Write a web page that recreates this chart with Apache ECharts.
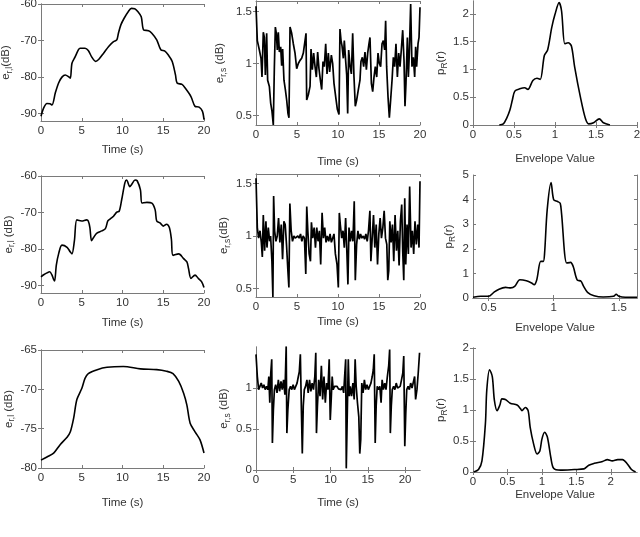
<!DOCTYPE html>
<html>
<head>
<meta charset="utf-8">
<script src="https://cdn.jsdelivr.net/npm/echarts@6.0.0/dist/echarts.min.js"></script>
<style>
  html, body { margin: 0; padding: 0; background: #fff; }
  #chart { width: 640px; height: 537px; }
</style>
</head>
<body>
<div id="chart"></div>
<script>
// ---- data ----
// large scale fading e_r,l (dB), rows 1..3
const largeScale1 = [[0,-90.7],[0.33,-88.4],[0.73,-87.2],[1.1,-87.3],[1.35,-87.6],[1.76,-84.3],[2.16,-81.6],[2.57,-80],[2.98,-79.4],[3.4,-79.9],[3.6,-80.3],[3.8,-76.2],[4.2,-74.4],[4.6,-72.5],[4.8,-72.1],[5.4,-72.1],[5.8,-72.7],[6.2,-74.4],[6.7,-75.7],[7.1,-75.1],[7.7,-73.4],[8.3,-71.6],[8.9,-70.3],[9.3,-69.8],[9.5,-68],[9.8,-65.7],[10.2,-63.9],[10.7,-62.1],[11.1,-61.2],[11.5,-61.3],[11.9,-62.1],[12.3,-63.5],[12.6,-67.1],[13.2,-67.3],[13.6,-68],[14.2,-69.8],[14.7,-72.5],[15.2,-72.9],[15.6,-73.9],[16.1,-75.7],[16.5,-79.4],[16.7,-81.6],[17.3,-82],[17.7,-83],[18.4,-85.3],[18.9,-88],[19.4,-88.2],[19.8,-89.3],[20,-91.6]]
const largeScale2 = [[0,-87.6],[0.33,-87],[0.73,-86.5],[1.06,-86.2],[1.35,-87.1],[1.55,-88.3],[1.67,-88.7],[1.88,-84.4],[2.16,-81.3],[2.57,-78.9],[3.2,-79.5],[3.6,-80.8],[3.8,-81.3],[4.1,-77.7],[4.4,-72],[5,-72.3],[5.6,-72],[5.8,-72.3],[6,-74.1],[6.2,-77.7],[6.45,-76.8],[6.86,-75.6],[7.47,-75],[7.9,-74.4],[8.2,-72.3],[8.5,-71.7],[8.9,-71],[9.3,-69.9],[9.6,-69.6],[9.9,-66.5],[10.3,-61.8],[10.5,-61.1],[10.9,-62.9],[11.1,-62.4],[11.55,-61.1],[11.8,-61.3],[12.2,-63.8],[12.4,-67.4],[13,-67.2],[13.6,-67.4],[14,-69.2],[14.2,-72.3],[14.6,-72.8],[15,-73.7],[15.4,-73.2],[15.75,-74.1],[16,-77.3],[16.2,-81.7],[16.9,-81.3],[17.5,-82.6],[17.9,-83.5],[18.1,-85.3],[18.4,-88],[18.9,-87.1],[19.3,-88],[19.7,-88.9],[20,-90.5]]
const largeScale3 = [[0,-79],[0.73,-78.6],[1.55,-78.1],[2.37,-77],[3.2,-76.1],[3.6,-75.4],[4,-73.7],[4.4,-71.3],[5,-69.9],[5.4,-68.6],[5.8,-68],[6.9,-67.5],[8.1,-67.2],[10.1,-67.1],[12.2,-67.4],[14.2,-67.5],[15.4,-67.7],[16.2,-68],[16.9,-69],[17.5,-70.5],[17.9,-72],[18.3,-74.3],[18.9,-75.4],[19.5,-76.4],[20,-78.1]]

// small scale fading e_r,s, rows 1..3
const smallScale1 = [[0,1.55],[0.16,1.22],[0.41,1.13],[0.61,1.05],[0.73,0.87],[0.89,1.3],[1.02,1.25],[1.14,0.89],[1.3,1.29],[1.42,0.84],[1.63,0.78],[1.79,0.62],[1.95,0.54],[2.11,0.41],[2.24,0.97],[2.36,1.35],[2.48,1.29],[2.6,1.13],[2.72,1.3],[2.85,1.11],[3.01,1.16],[3.13,0.98],[3.25,1.14],[3.41,0.84],[3.58,0.75],[3.74,0.65],[3.9,0.52],[4.02,0.48],[4.15,1.35],[4.35,1.29],[4.55,1.19],[4.76,1.1],[4.96,0.95],[5.16,1.0],[5.37,1.03],[5.57,1.05],[5.77,1.1],[5.98,1.22],[6.1,1.29],[6.18,0.65],[6.38,0.7],[6.59,0.78],[6.71,1.14],[6.87,0.94],[7.03,1.1],[7.2,0.97],[7.36,0.87],[7.52,1.11],[7.68,0.95],[7.85,0.84],[8.01,0.75],[8.17,1.02],[8.33,0.97],[8.5,1.19],[8.66,0.9],[8.82,1.1],[8.98,0.92],[9.19,1.08],[9.35,1.0],[9.51,0.81],[9.72,0.68],[9.92,0.56],[10.12,0.51],[10.24,1.33],[10.37,1.22],[10.49,1.17],[10.65,1.05],[10.77,1.22],[10.93,1.03],[11.06,0.89],[11.18,0.52],[11.3,1.13],[11.46,0.98],[11.63,0.9],[11.79,1.29],[11.95,0.87],[12.11,0.59],[12.28,0.65],[12.48,0.75],[12.68,0.84],[12.8,1.02],[12.97,1.06],[13.13,0.97],[13.29,1.11],[13.46,0.94],[13.62,1.1],[13.78,1.19],[13.9,1.25],[14.07,0.81],[14.23,0.73],[14.39,0.87],[14.55,0.97],[14.72,0.87],[14.88,1.1],[15.04,1.0],[15.2,0.97],[15.37,1.19],[15.53,1.22],[15.69,1.13],[15.81,1.41],[15.93,0.97],[16.1,0.68],[16.26,0.48],[16.42,0.65],[16.59,0.84],[16.75,1.06],[16.91,0.97],[17.07,1.19],[17.24,0.87],[17.4,1.1],[17.56,0.97],[17.72,1.13],[17.89,1.32],[18.05,1.03],[18.17,0.59],[18.29,0.81],[18.46,1.25],[18.58,0.87],[18.7,1.1],[18.86,1.57],[19.02,0.97],[19.19,1.06],[19.35,0.87],[19.47,1.16],[19.59,0.97],[19.76,1.19],[19.88,1.25],[20,1.54]]
const smallScale2 = [[0,1.55],[0.16,1.08],[0.32,0.98],[0.49,1.05],[0.65,0.94],[0.77,0.8],[0.89,1.2],[1.05,0.86],[1.21,1.14],[1.34,0.89],[1.5,1.08],[1.66,0.95],[1.78,1.0],[1.94,0.76],[2.06,0.42],[2.15,1.38],[2.27,1.05],[2.43,0.95],[2.59,1.0],[2.75,1.17],[2.91,0.94],[3.08,1.11],[3.24,0.78],[3.4,1.14],[3.56,1.11],[3.72,0.92],[3.89,0.67],[4.01,0.51],[4.13,1.31],[4.29,1.05],[4.45,0.95],[4.62,1.0],[4.78,0.98],[4.94,0.97],[5.1,1.0],[5.26,0.98],[5.43,1.02],[5.59,0.95],[5.75,1.0],[5.91,0.98],[6.07,0.64],[6.19,1.28],[6.32,1.05],[6.48,0.83],[6.64,0.76],[6.76,1.13],[6.92,0.98],[7.09,1.08],[7.25,0.89],[7.41,1.08],[7.57,0.95],[7.73,1.05],[7.89,0.73],[8.06,1.22],[8.22,0.98],[8.38,1.08],[8.54,0.94],[8.7,1.0],[8.87,0.95],[9.03,1.02],[9.19,0.94],[9.35,0.98],[9.51,1.02],[9.68,0.83],[9.88,0.73],[10.04,0.51],[10.16,1.22],[10.28,1.11],[10.45,0.98],[10.61,1.05],[10.77,0.89],[10.93,1.17],[11.09,0.83],[11.21,0.54],[11.34,1.08],[11.5,0.95],[11.66,1.05],[11.82,0.95],[11.98,1.33],[12.11,0.58],[12.27,0.92],[12.43,1.05],[12.59,0.97],[12.75,1.02],[12.91,0.98],[13.08,1.0],[13.24,0.97],[13.4,1.02],[13.56,0.95],[13.72,1.05],[13.89,1.24],[14.01,0.76],[14.17,0.98],[14.33,1.2],[14.49,0.89],[14.66,1.11],[14.82,0.73],[14.98,1.02],[15.14,1.17],[15.3,0.98],[15.47,1.08],[15.63,1.24],[15.79,0.98],[15.95,0.92],[16.07,0.58],[16.19,0.67],[16.32,1.14],[16.48,0.94],[16.64,1.11],[16.8,0.76],[16.96,1.2],[17.13,0.86],[17.29,1.05],[17.45,0.72],[17.61,1.14],[17.77,1.3],[17.89,0.86],[18.02,0.58],[18.14,1.36],[18.26,0.73],[18.42,1.11],[18.58,0.83],[18.74,1.47],[18.91,0.89],[19.07,1.05],[19.23,0.83],[19.39,1.14],[19.55,0.92],[19.72,1.11],[19.88,0.89],[20,1.52]]
const smallScale3 = [[0,1.41],[0.18,1.14],[0.35,0.98],[0.53,0.96],[0.7,1.06],[0.88,1.0],[1.06,1.04],[1.23,0.98],[1.41,1.02],[1.59,0.98],[1.72,1.14],[1.85,0.82],[1.98,1.18],[2.11,1.35],[2.2,0.33],[2.33,0.73],[2.47,0.98],[2.64,1.04],[2.82,0.94],[3.0,1.1],[3.17,0.96],[3.35,1.08],[3.52,0.98],[3.7,1.1],[3.88,0.92],[4.05,1.51],[4.14,0.45],[4.27,0.73],[4.45,0.98],[4.63,1.02],[4.8,0.98],[4.98,1.04],[5.15,0.98],[5.33,1.0],[5.51,1.06],[5.68,1.14],[5.81,1.2],[5.95,1.41],[6.08,0.78],[6.21,0.2],[6.34,0.78],[6.48,0.98],[6.65,1.02],[6.83,1.1],[7.0,0.94],[7.18,1.1],[7.36,0.96],[7.53,1.06],[7.71,0.98],[7.89,1.14],[8.02,1.43],[8.11,0.45],[8.24,0.78],[8.41,1.1],[8.59,0.9],[8.77,1.27],[8.94,0.86],[9.12,1.14],[9.3,0.82],[9.47,1.06],[9.65,0.98],[9.82,1.35],[9.96,0.61],[10.09,0.86],[10.22,1.14],[10.35,0.98],[10.53,1.02],[10.7,1.0],[10.88,1.02],[11.06,0.99],[11.23,1.0],[11.41,0.98],[11.59,1.02],[11.76,0.94],[11.89,1.14],[12.03,1.35],[12.11,0.02],[12.25,0.02],[12.38,1.35],[12.51,0.9],[12.64,1.02],[12.82,0.9],[13.0,1.06],[13.17,0.86],[13.3,1.35],[13.44,1.02],[13.61,0.82],[13.79,0.65],[13.92,0.2],[14.05,0.37],[14.19,1.06],[14.36,0.94],[14.54,1.1],[14.71,0.98],[14.89,1.04],[15.07,0.98],[15.24,1.02],[15.42,1.06],[15.59,1.14],[15.73,1.22],[15.86,1.41],[15.99,0.33],[16.12,0.78],[16.26,1.02],[16.43,0.98],[16.61,1.02],[16.78,0.82],[16.92,1.1],[17.09,0.98],[17.27,1.06],[17.44,0.98],[17.62,1.14],[17.8,1.27],[17.93,1.47],[18.02,0.45],[18.15,0.78],[18.28,0.98],[18.46,1.02],[18.63,0.98],[18.81,1.06],[18.99,1.0],[19.16,0.98],[19.34,1.02],[19.52,1.1],[19.69,1.18],[19.82,1.39],[19.96,0.29],[20.09,0.69],[20.22,0.98],[20.4,1.02],[20.57,0.98],[20.75,1.06],[20.93,1.0],[21.1,0.98],[21.28,1.14],[21.41,0.86],[21.59,0.98],[21.76,1.18],[21.94,1.43]]

// envelope pdf p_R(r), rows 1..3
const envelopePdf1 = [[0.32,0],[0.37,0.02],[0.41,0.12],[0.45,0.27],[0.48,0.45],[0.51,0.61],[0.57,0.65],[0.63,0.67],[0.67,0.64],[0.73,0.8],[0.78,0.84],[0.82,0.82],[0.87,1.25],[0.91,1.35],[0.96,1.75],[1.0,1.99],[1.05,2.2],[1.08,2.05],[1.12,1.46],[1.16,1.48],[1.2,1.42],[1.24,1.04],[1.31,0.5],[1.37,0.12],[1.41,0.02],[1.47,0.04],[1.54,0.11],[1.59,0.04],[1.67,0]]
const envelopePdf2 = [[0.38,0.03],[0.44,0.07],[0.5,0.07],[0.54,0.23],[0.58,0.36],[0.63,0.43],[0.67,0.41],[0.7,0.47],[0.74,0.74],[0.79,0.7],[0.83,0.61],[0.85,0.54],[0.87,0.74],[0.9,1.49],[0.92,1.49],[0.93,1.82],[0.95,3.58],[0.98,4.69],[1.0,3.99],[1.03,3.92],[1.05,3.85],[1.06,3.45],[1.1,1.42],[1.13,1.45],[1.15,1.28],[1.18,0.74],[1.21,0.68],[1.23,0.47],[1.26,0.23],[1.31,0.09],[1.38,0.04],[1.46,0.07],[1.48,0.15],[1.5,0.07],[1.55,0.03],[1.64,0.03]]
const envelopePdf3 = [[0.01,0],[0.08,0.04],[0.13,0.18],[0.18,0.78],[0.2,1.32],[0.24,1.65],[0.28,1.54],[0.31,1.16],[0.35,0.99],[0.39,1.08],[0.42,1.18],[0.47,1.17],[0.54,1.11],[0.64,1.08],[0.69,1.02],[0.71,0.99],[0.76,1.04],[0.8,0.99],[0.83,0.72],[0.88,0.45],[0.93,0.29],[0.97,0.34],[1.0,0.53],[1.04,0.64],[1.08,0.56],[1.13,0.23],[1.17,0.06],[1.27,0.03],[1.47,0.04],[1.61,0.05],[1.68,0.11],[1.76,0.14],[1.88,0.17],[1.95,0.2],[2.02,0.18],[2.1,0.2],[2.17,0.2],[2.24,0.13],[2.3,0.04],[2.36,0]]

// tick labels
const timeTicks = [0, 5, 10, 15, 20]
const dbTicksA = [-90, -80, -70, -60]
const dbTicksB = [-80, -75, -70, -65]
const smallTicksA = [0.5, 1, 1.5]
const smallTicksB = [0, 0.5, 1]
const envTicksA = [0, 0.5, 1, 1.5, 2]
const envTicksB = [0.5, 1, 1.5]
const pdfTicksA = [0, 0.5, 1, 1.5, 2]
const pdfTicksB = [0, 1, 2, 3, 4, 5]

const axisColor = '#7a7a7a'
const textColor = '#333333'
const font = 'Liberation Sans, Arial, sans-serif'

const nameRich = {
  a: { fontSize: 11.5, color: textColor, fontFamily: font },
  s: { fontSize: 8.5, color: textColor, fontFamily: font, padding: [7, 0, 0, 0] }
}

// one entry per panel: placement, axis ranges, names
const panels = [
  { grid: [41, 4, 163, 117], x: [0, 20, timeTicks], y: [-92, -60, dbTicksA], xName: 'Time (s)', xGap: 23, yName: '{a|e}{s|r,l}{a|(dB)}', yGap: 27, data: largeScale1, smooth: 0.3 },
  { grid: [256, 1, 164, 124], x: [0, 20, timeTicks], y: [0.41, 1.6, smallTicksA], xName: 'Time (s)', xGap: 31, yName: '{a|e}{s|r,s}{a| (dB)}', yGap: 28, data: smallScale1, smooth: false },
  { grid: [473, 1, 164, 124], x: [0, 2, envTicksA], y: [0, 2.23, pdfTicksA], xName: 'Envelope Value', xGap: 28, yName: '{a|p}{s|R}{a|(r)}', yGap: 21, data: envelopePdf1, smooth: 0.3 },
  { grid: [41, 176, 163, 117], x: [0, 20, timeTicks], y: [-92, -60, dbTicksA], xName: 'Time (s)', xGap: 24, yName: '{a|e}{s|r,l}{a| (dB)}', yGap: 23, data: largeScale2, smooth: 0.3 },
  { grid: [256, 174, 164, 123], x: [0, 20, timeTicks], y: [0.42, 1.59, smallTicksA], xName: 'Time (s)', xGap: 19, yName: '{a|e}{s|r,s}{a|(dB)}', yGap: 21, data: smallScale2, smooth: false },
  { grid: [473, 175, 164, 123], x: [0.38, 1.64, envTicksB], y: [0, 5, pdfTicksB], xName: 'Envelope Value', xGap: 24, yName: '{a|p}{s|R}{a|(r)}', yGap: 16, data: envelopePdf2, smooth: 0.3 },
  { grid: [41, 350, 163, 118], x: [0, 20, timeTicks], y: [-80, -65, dbTicksB], xName: 'Time (s)', xGap: 29, yName: '{a|e}{s|r,l}{a| (dB)}', yGap: 23, data: largeScale3, smooth: 0.3 },
  { grid: [256, 347, 164, 123], x: [0, 22, timeTicks], y: [0, 1.5, smallTicksB], xName: 'Time (s)', xGap: 27, yName: '{a|e}{s|r,s}{a| (dB)}', yGap: 24, data: smallScale3, smooth: false },
  { grid: [473, 348, 164, 124], x: [0, 2.38, envTicksA], y: [0, 2, pdfTicksA], xName: 'Envelope Value', xGap: 17, yName: '{a|p}{s|R}{a|(r)}', yGap: 18, data: envelopePdf3, smooth: 0.3 }
]

const chart = echarts.init(document.getElementById('chart'), null, { renderer: 'canvas' })

const grid = []
const xAxis = []
const yAxis = []
const series = []

panels.forEach((p, i) => {
  grid.push({
    left: p.grid[0], top: p.grid[1], width: p.grid[2], height: p.grid[3],
    containLabel: false, outerBoundsMode: 'none'
  })
  const line = { show: true, lineStyle: { color: axisColor, width: 1 } }
  const label = { color: textColor, fontSize: 11.5, fontFamily: font, margin: 4 }
  // bottom / left: the labelled ones
  xAxis.push({
    type: 'value', gridIndex: i, position: 'bottom', min: p.x[0], max: p.x[1],
    axisLine: line, splitLine: { show: false },
    axisTick: { inside: true, length: 3, customValues: p.x[2], lineStyle: { color: axisColor } },
    axisLabel: Object.assign({ customValues: p.x[2] }, label),
    name: p.xName, nameLocation: 'middle', nameGap: p.xGap,
    nameTextStyle: { color: textColor, fontSize: 11.5, fontFamily: font, verticalAlign: 'top' }
  })
  // top mirror (box + ticks)
  xAxis.push({
    type: 'value', gridIndex: i, position: 'top', min: p.x[0], max: p.x[1],
    axisLine: line, splitLine: { show: false }, axisLabel: { show: false },
    axisTick: { inside: true, length: 3, customValues: p.x[2], lineStyle: { color: axisColor } }
  })
  yAxis.push({
    type: 'value', gridIndex: i, position: 'left', min: p.y[0], max: p.y[1],
    axisLine: line, splitLine: { show: false },
    axisTick: { inside: true, length: 3, customValues: p.y[2], lineStyle: { color: axisColor } },
    axisLabel: Object.assign({ customValues: p.y[2] }, label),
    name: p.yName, nameLocation: 'middle', nameGap: p.yGap, nameRotate: 90,
    nameTextStyle: { color: textColor, fontSize: 11.5, fontFamily: font, rich: nameRich }
  })
  yAxis.push({
    type: 'value', gridIndex: i, position: 'right', min: p.y[0], max: p.y[1],
    axisLine: line, splitLine: { show: false }, axisLabel: { show: false },
    axisTick: { inside: true, length: 3, customValues: p.y[2], lineStyle: { color: axisColor } }
  })
  series.push({
    type: 'line',
    xAxisIndex: i * 2,
    yAxisIndex: i * 2,
    data: p.data,
    smooth: p.smooth,
    showSymbol: false,
    clip: true,
    lineStyle: { color: '#000', width: p.smooth ? 1.6 : 1.7 }
  })
})

chart.setOption({
  animation: false,
  backgroundColor: '#fff',
  grid: grid,
  xAxis: xAxis,
  yAxis: yAxis,
  series: series
})
</script>
</body>
</html>
